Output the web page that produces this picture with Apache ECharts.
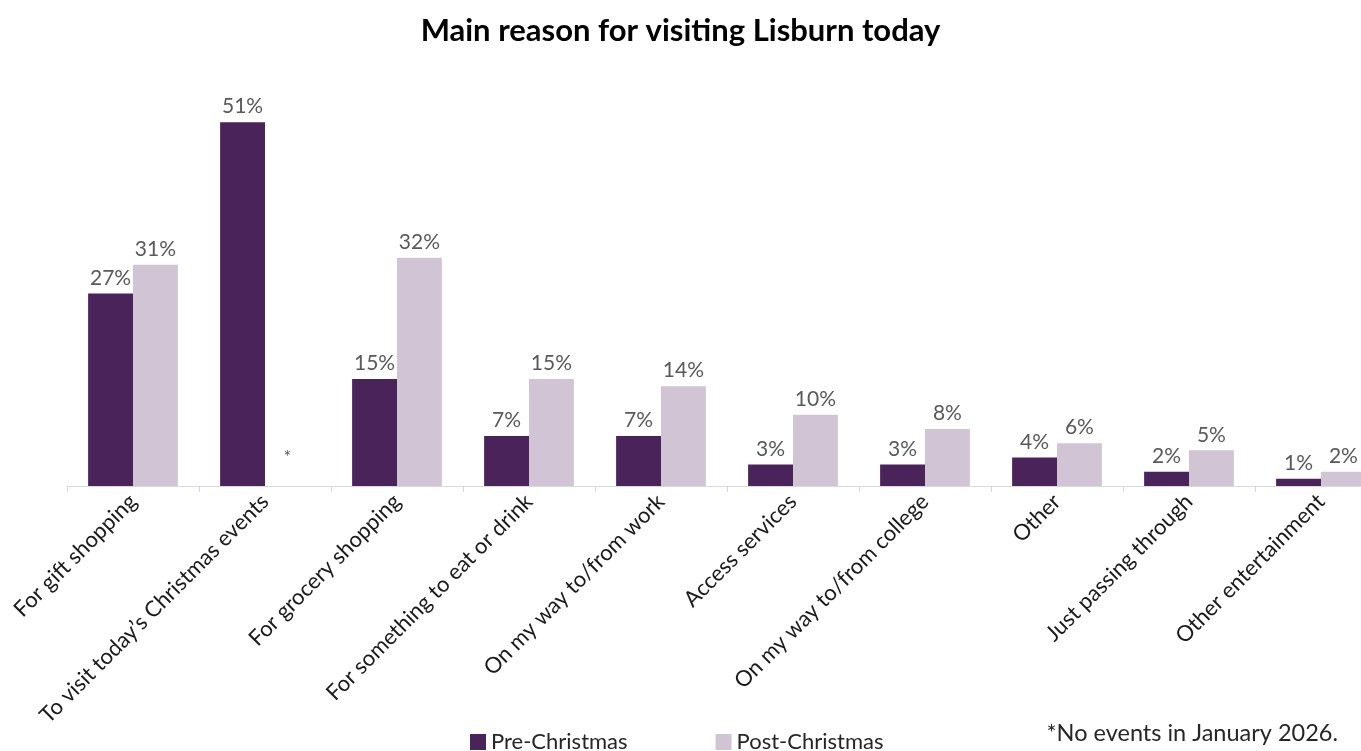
<!DOCTYPE html>
<html>
<head>
<meta charset="utf-8">
<script src="https://cdn.jsdelivr.net/npm/echarts@6/dist/echarts.min.js"></script>
<style>
  html, body { margin: 0; padding: 0; background: #ffffff; }
  #chart { width: 1361px; height: 751px; }
</style>
</head>
<body>
<div id="chart"></div>
<script>
// Reasons for visiting, share of respondents (%)
const categories = [
  'For gift shopping',
  'To visit today\u2019s Christmas events',
  'For grocery shopping',
  'For something to eat or drink',
  'On my way to/from work',
  'Access services',
  'On my way to/from college',
  'Other',
  'Just passing through',
  'Other entertainment'
];
const preChristmas = [27, 51, 15, 7, 7, 3, 3, 4, 2, 1];
// null = no events held after Christmas (shown with an asterisk)
const postChristmas = [31, null, 32, 15, 14, 10, 8, 6, 5, 2];
const footnote = '*No events in January 2026.';

const FONT = 'Lato, "Open Sans", sans-serif';
const labelStyle = {
  show: true,
  position: 'top',
  distance: 5,
  color: '#595959',
  fontSize: 21,
  fontFamily: FONT,
  formatter: p => p.value + '%'
};

const postData = postChristmas.map(v => v === null
  ? { value: 0, label: { formatter: '*', distance: 20, fontSize: 18 } }
  : v);

const chart = echarts.init(document.getElementById('chart'), null, { renderer: 'canvas' });
chart.setOption({
  animation: false,
  backgroundColor: '#ffffff',
  title: {
    text: 'Main reason for visiting Lisburn today',
    left: 'center',
    top: 10,
    textStyle: { fontFamily: FONT, fontWeight: 'bold', fontSize: 31, color: '#000000' }
  },
  legend: {
    left: 465,
    top: 726,
    itemWidth: 16,
    itemHeight: 16,
    itemGap: 88,
    icon: 'rect',
    textStyle: { fontFamily: FONT, fontSize: 22, color: '#262626' },
    data: ['Pre-Christmas', 'Post-Christmas']
  },
  graphic: [{
    type: 'text',
    right: 23,
    top: 721,
    style: { text: footnote, fontFamily: FONT, fontSize: 23.5, fill: '#262626' }
  }],
  // the last category runs past the right edge of the canvas
  grid: {
    left: 67, width: 1320, top: 58, height: 428,
    containLabel: false,
    outerBoundsMode: 'none'
  },
  xAxis: {
    type: 'category',
    data: categories,
    axisLine: { lineStyle: { color: '#d9d9d9', width: 1 } },
    axisTick: { show: true, length: 6, lineStyle: { color: '#d9d9d9' } },
    axisLabel: {
      rotate: 45,
      interval: 0,
      margin: 12,
      color: '#1a1a1a',
      fontSize: 22,
      fontFamily: FONT
    }
  },
  yAxis: {
    type: 'value',
    min: 0,
    max: 60,
    show: false,
    splitLine: { show: false }
  },
  series: [
    {
      name: 'Pre-Christmas',
      type: 'bar',
      data: preChristmas,
      barGap: '0%',
      barCategoryGap: '32%',
      itemStyle: { color: '#4a235a' },
      label: labelStyle
    },
    {
      name: 'Post-Christmas',
      type: 'bar',
      data: postData,
      itemStyle: { color: '#d1c5d5' },
      label: labelStyle
    }
  ]
});
</script>
</body>
</html>
